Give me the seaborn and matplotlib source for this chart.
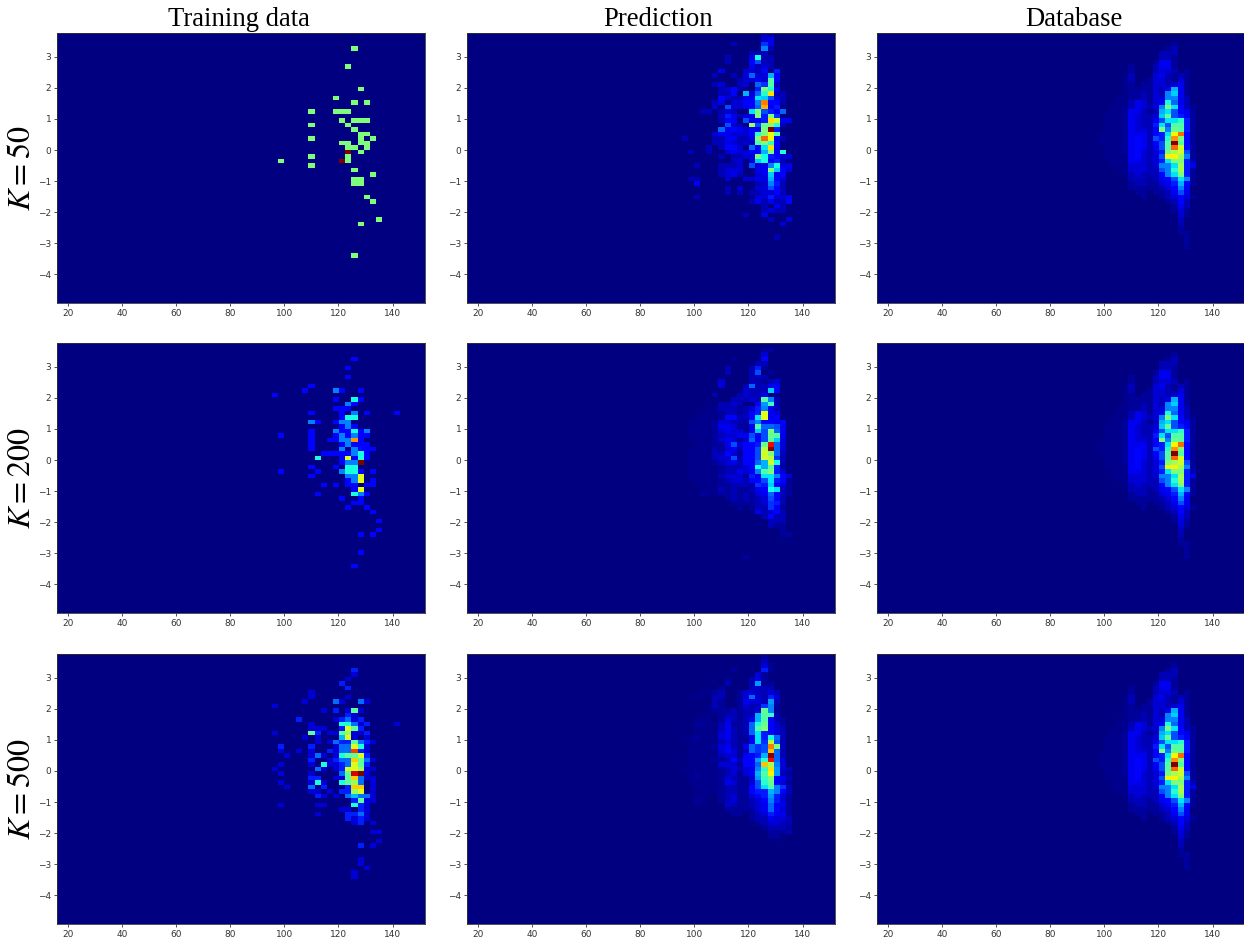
# 2d histograms of the 3 data sources at each training size
import numpy as np
import pandas as pd
import matplotlib
matplotlib.use('Agg')
import matplotlib.pyplot as plt
import seaborn as sns

plt.rcParams['mathtext.fontset'] = 'stix'

column_titles = ['Training data', 'Prediction', 'Database']
row_labels = ['$K=50$', '$K=200$', '$K=500$']
x_ticks = [20, 40, 60, 80, 100, 120, 140]
y_ticks = [-4, -3, -2, -1, 0, 1, 2, 3]

# histogram range and number of bins per axis
x_range = (15.9, 152.0)
y_range = (-4.93, 3.77)
n_bins = 60

# every panel: {row from the top: {column: count}}, empty bins are left out
train_50 = {
    3: {48: 1}, 7: {47: 1}, 12: {49: 1}, 14: {45: 1}, 15: {48: 1, 50: 1},
    17: {41: 1, 45: 1, 46: 1, 47: 1}, 19: {46: 1, 48: 1, 49: 1, 50: 1},
    20: {41: 1, 47: 1}, 21: {48: 1}, 22: {49: 1, 50: 1},
    23: {41: 1, 49: 1, 51: 1}, 24: {46: 1, 47: 1, 49: 1, 50: 1},
    25: {47: 1, 48: 1, 50: 1}, 26: {47: 2, 49: 1}, 27: {41: 1, 47: 1},
    28: {36: 1, 46: 2, 47: 1}, 29: {41: 1}, 30: {48: 1}, 31: {51: 1},
    32: {48: 1, 49: 1}, 33: {48: 1, 49: 1}, 36: {50: 1}, 37: {51: 1},
    41: {52: 1}, 42: {49: 1}, 49: {48: 1},
}
train_200 = {
    3: {48: 1}, 5: {47: 1}, 7: {47: 1}, 9: {41: 1},
    10: {40: 1, 45: 2, 46: 1, 49: 1}, 11: {35: 1}, 12: {45: 1, 48: 3, 49: 1},
    13: {47: 2, 48: 1}, 14: {45: 1, 46: 1, 47: 1},
    15: {41: 1, 46: 1, 48: 2, 50: 1, 55: 1}, 16: {46: 1, 47: 3, 48: 3},
    17: {41: 2, 42: 1, 45: 1, 46: 2, 47: 2}, 18: {46: 1, 47: 2, 48: 1},
    19: {41: 1, 45: 2, 46: 1, 47: 1, 48: 3, 49: 1, 50: 2},
    20: {36: 1, 41: 1, 45: 1, 46: 2, 47: 1, 48: 2, 49: 1, 50: 1},
    21: {41: 1, 44: 1, 45: 1, 46: 2, 47: 2, 48: 6, 49: 1},
    22: {41: 1, 46: 1, 47: 2, 48: 1, 49: 1, 50: 1},
    23: {41: 1, 46: 2, 48: 2, 49: 1, 50: 1, 51: 1},
    24: {43: 1, 44: 1, 45: 1, 46: 1, 47: 1, 48: 2, 49: 3, 50: 1},
    25: {42: 3, 46: 1, 47: 5, 48: 1, 49: 3, 50: 1},
    26: {46: 1, 47: 2, 48: 2, 49: 8}, 27: {41: 1, 45: 1, 47: 3, 48: 3},
    28: {36: 1, 42: 1, 46: 2, 47: 3, 48: 3, 49: 1, 51: 1},
    29: {41: 1, 47: 2, 48: 2, 49: 5}, 30: {47: 1, 48: 2, 49: 5, 51: 1},
    31: {43: 1, 45: 1, 47: 1, 48: 1, 50: 1, 51: 1}, 32: {48: 1, 49: 5},
    33: {42: 1, 48: 3, 49: 2, 50: 1}, 34: {46: 1, 49: 1}, 35: {48: 1, 49: 1},
    36: {47: 1, 50: 1}, 37: {51: 1}, 39: {52: 1}, 41: {52: 1},
    42: {49: 1, 51: 1}, 46: {49: 1}, 49: {48: 1},
}
train_500 = {
    3: {48: 2}, 4: {48: 1}, 5: {47: 1}, 6: {46: 2}, 7: {47: 2}, 8: {41: 1},
    9: {41: 1, 47: 1}, 10: {40: 1, 45: 3, 46: 1, 49: 3, 50: 1}, 11: {35: 1},
    12: {43: 1, 45: 2, 47: 1, 48: 6, 49: 1}, 13: {47: 2, 48: 1},
    14: {39: 2, 45: 1, 46: 2, 47: 3, 48: 1, 49: 2},
    15: {41: 1, 46: 5, 47: 5, 48: 3, 49: 1, 50: 2, 55: 1},
    16: {41: 1, 42: 1, 43: 1, 46: 2, 47: 8, 48: 6, 49: 2},
    17: {35: 1, 41: 6, 42: 2, 44: 1, 45: 1, 46: 6, 47: 7, 48: 1, 49: 1, 50: 2},
    18: {40: 1, 42: 1, 46: 4, 47: 8, 48: 1, 50: 1},
    19: {42: 1, 44: 1, 45: 3, 46: 2, 47: 2, 48: 6, 49: 3, 50: 2, 51: 1},
    20: {36: 2, 41: 2, 45: 1, 46: 3, 47: 3, 48: 8, 49: 5, 50: 1},
    21: {36: 1, 39: 1, 41: 1, 44: 2, 45: 1, 46: 3, 47: 3, 48: 11, 49: 2, 50: 1},
    22: {37: 1, 41: 1, 42: 3, 43: 1, 45: 1, 46: 5, 47: 6, 48: 6, 49: 8, 50: 2},
    23: {41: 2, 44: 1, 45: 2, 46: 3, 47: 3, 48: 9, 49: 6, 50: 3, 51: 1},
    24: {36: 1, 41: 1, 43: 5, 44: 1, 45: 1, 46: 2, 47: 3, 48: 8, 49: 6, 50: 2},
    25: {35: 1, 42: 3, 43: 1, 45: 1, 46: 2, 47: 8, 48: 8, 49: 7, 50: 1, 51: 1},
    26: {36: 1, 41: 1, 46: 3, 47: 6, 48: 12, 49: 13, 50: 1},
    27: {41: 2, 42: 2, 45: 1, 46: 1, 47: 6, 48: 9, 49: 3, 50: 1, 51: 1},
    28: {36: 1, 41: 1, 42: 5, 43: 1, 46: 5, 47: 6, 48: 7, 49: 3, 51: 1},
    29: {37: 1, 41: 3, 43: 2, 47: 2, 48: 9, 49: 9, 51: 1},
    30: {41: 1, 42: 1, 44: 1, 46: 2, 47: 2, 48: 7, 49: 8, 51: 1},
    31: {42: 2, 43: 1, 45: 1, 47: 3, 48: 4, 49: 3, 50: 3, 51: 1},
    32: {48: 2, 49: 6, 50: 1, 51: 1},
    33: {36: 1, 42: 1, 43: 1, 48: 5, 49: 2, 50: 1},
    34: {46: 1, 47: 1, 49: 2, 50: 1}, 35: {42: 1, 47: 2, 48: 2, 49: 3, 50: 1},
    36: {47: 2, 48: 1, 49: 2, 50: 1}, 37: {48: 1, 49: 2, 51: 1},
    39: {51: 1, 52: 1}, 41: {52: 1}, 42: {49: 2, 51: 1}, 45: {49: 1},
    46: {49: 1}, 47: {50: 1}, 48: {48: 1}, 49: {48: 1},
}
pred_50 = {
    0: {48: 2, 49: 1}, 1: {48: 3, 49: 4}, 2: {43: 2, 48: 7, 49: 4},
    3: {48: 10, 49: 2}, 4: {46: 2, 47: 2, 48: 2},
    5: {42: 2, 46: 4, 47: 15, 48: 2, 49: 2},
    6: {42: 2, 46: 5, 47: 8, 48: 2, 49: 2}, 7: {46: 4, 47: 2, 48: 3, 49: 2},
    8: {41: 4, 45: 3, 46: 3, 47: 2, 48: 5, 50: 6},
    9: {40: 2, 43: 2, 45: 3, 46: 9, 47: 3, 48: 3, 49: 12, 50: 5},
    10: {44: 2, 45: 3, 46: 3, 47: 4, 48: 3, 49: 18, 50: 5},
    11: {40: 2, 41: 3, 44: 2, 45: 3, 47: 9, 48: 7, 49: 18, 50: 2},
    12: {41: 2, 42: 3, 43: 5, 44: 2, 47: 6, 48: 20, 49: 15, 50: 4},
    13: {41: 2, 42: 2, 43: 5, 45: 12, 46: 3, 47: 9, 48: 16, 49: 27, 50: 2, 51: 2},
    14: {41: 5, 42: 3, 43: 2, 44: 2, 45: 4, 46: 4, 47: 14, 48: 13, 49: 8, 50: 3, 51: 2},
    15: {40: 2, 41: 4, 43: 3, 44: 3, 45: 5, 46: 5, 47: 10, 48: 31, 49: 5, 50: 5, 51: 2},
    16: {40: 3, 42: 8, 43: 3, 44: 3, 45: 4, 46: 5, 47: 9, 48: 29, 49: 4, 50: 6},
    17: {38: 2, 39: 2, 41: 2, 42: 3, 43: 2, 46: 14, 47: 20, 48: 8, 49: 6, 50: 4, 51: 9},
    18: {41: 2, 42: 6, 43: 4, 44: 2, 45: 3, 46: 4, 47: 20, 48: 6, 49: 20, 50: 7},
    19: {41: 2, 42: 5, 43: 4, 45: 8, 46: 4, 47: 5, 48: 6, 49: 27, 50: 24, 51: 4, 52: 4},
    20: {42: 8, 43: 3, 44: 2, 46: 22, 47: 8, 48: 19, 49: 20, 50: 16, 51: 2},
    21: {41: 9, 42: 4, 43: 5, 44: 4, 45: 3, 46: 5, 47: 4, 48: 20, 49: 40, 50: 6},
    22: {40: 3, 41: 4, 42: 4, 43: 3, 44: 3, 45: 3, 46: 5, 47: 16, 48: 20, 49: 25, 50: 18},
    23: {35: 2, 40: 2, 41: 2, 42: 4, 43: 4, 44: 2, 45: 2, 46: 4, 47: 20, 48: 32, 49: 26, 50: 4, 51: 2},
    24: {40: 2, 41: 2, 42: 4, 43: 3, 44: 2, 45: 3, 46: 2, 47: 18, 48: 20, 49: 16, 50: 5},
    25: {39: 2, 41: 2, 42: 5, 43: 5, 44: 3, 46: 9, 47: 5, 48: 14, 49: 27, 50: 4},
    26: {36: 2, 39: 2, 42: 3, 43: 4, 44: 3, 45: 3, 46: 5, 47: 5, 48: 12, 49: 20, 50: 4, 51: 16},
    27: {41: 2, 43: 2, 44: 2, 45: 3, 46: 3, 47: 20, 48: 15, 49: 6, 50: 5, 51: 3, 52: 3},
    28: {43: 2, 44: 3, 46: 3, 47: 13, 48: 15, 49: 5, 50: 6, 51: 2},
    29: {37: 2, 41: 2, 42: 2, 43: 2, 44: 3, 46: 8, 47: 3, 48: 4, 49: 10, 50: 15, 51: 3, 52: 4},
    30: {41: 2, 42: 3, 43: 3, 44: 3, 47: 4, 48: 4, 49: 20, 50: 13, 51: 5, 52: 3},
    31: {41: 2, 42: 3, 43: 4, 44: 2, 47: 3, 48: 4, 49: 13, 50: 4, 51: 5},
    32: {36: 2, 37: 2, 42: 3, 45: 3, 46: 3, 47: 4, 48: 3, 49: 12, 50: 5, 51: 3},
    33: {37: 4, 47: 2, 48: 3, 49: 10, 50: 6, 51: 2},
    34: {42: 2, 44: 3, 47: 3, 48: 3, 49: 8, 50: 5, 51: 2},
    35: {42: 2, 44: 2, 46: 2, 47: 2, 48: 3, 49: 3, 50: 5, 51: 2},
    36: {37: 2, 47: 3, 48: 3, 49: 6, 50: 3, 51: 3, 52: 4},
    37: {46: 2, 47: 4, 48: 2, 49: 4, 50: 2, 51: 2, 52: 5},
    38: {48: 2, 50: 4, 51: 2}, 39: {48: 2, 49: 3, 50: 2, 51: 2},
    40: {45: 2, 48: 4}, 41: {49: 2, 52: 3}, 42: {51: 3}, 45: {50: 2},
}
pred_200 = {
    1: {48: 1, 49: 1}, 2: {48: 3}, 3: {43: 1, 48: 5}, 4: {47: 2, 48: 2},
    5: {42: 2, 46: 2, 47: 6, 48: 1}, 6: {42: 2, 46: 2, 47: 8, 49: 1},
    7: {46: 2, 47: 2, 48: 2}, 8: {41: 3, 46: 2, 47: 2, 48: 1, 49: 2, 50: 3},
    9: {41: 3, 45: 2, 46: 9, 47: 2, 48: 2, 49: 4, 50: 4},
    10: {45: 3, 46: 2, 47: 2, 48: 2, 49: 13, 50: 5},
    11: {40: 2, 44: 2, 45: 3, 46: 2, 47: 2, 48: 4},
    12: {43: 2, 44: 2, 45: 2, 46: 3, 47: 2, 48: 18, 49: 10, 50: 2},
    13: {41: 2, 42: 2, 43: 3, 44: 2, 47: 5, 48: 11, 49: 17, 50: 2},
    14: {39: .5, 40: .5, 41: 2, 42: 2, 43: 2, 44: 1, 45: 2, 46: 3, 47: 6, 48: 10, 49: 4, 50: 2},
    15: {38: .5, 39: .5, 40: .5, 41: 1, 42: 2, 43: 2, 44: 1, 45: 2, 46: 5, 47: 6, 48: 25, 49: 4, 50: 3},
    16: {37: .5, 38: .5, 39: .5, 40: .5, 41: 1, 42: 5, 43: 5, 44: 2, 45: 2, 46: 5, 47: 14, 48: 25, 49: 4, 50: 5},
    17: {36: .5, 37: .5, 38: .5, 39: .5, 40: 1, 41: 3, 42: 3, 43: 2, 44: 2, 45: 1, 46: 8, 47: 10, 48: 5, 49: 5, 50: 4, 51: 5},
    18: {36: .5, 37: .5, 38: .5, 39: .5, 40: 1, 41: 4, 42: 4, 43: 3, 44: 1, 45: 1, 46: 4, 47: 18, 48: 9, 49: 9, 50: 8, 51: 4},
    19: {36: .5, 37: .5, 38: .5, 39: .5, 40: 1, 41: 3, 42: 4, 43: 3, 44: 3, 45: 1, 46: 4, 47: 13, 48: 8, 49: 20, 50: 9, 51: 4},
    20: {36: .5, 37: .5, 38: .5, 39: .5, 40: 1, 41: 2, 42: 3, 43: 3, 44: 4, 45: 4, 46: 8, 47: 4, 48: 8, 49: 19, 50: 18, 51: 4},
    21: {37: .5, 38: .5, 39: .5, 40: 1, 41: 3, 42: 4, 43: 3, 44: 1, 45: 3, 46: 9, 47: 5, 48: 8, 49: 18, 50: 13, 51: 3},
    22: {37: .5, 38: .5, 39: .5, 40: 1, 41: 1, 42: 4, 43: 8, 44: 3, 45: 5, 46: 5, 47: 6, 48: 19, 49: 36, 50: 9, 51: 3},
    23: {36: .5, 37: .5, 38: .5, 39: .5, 40: 2, 41: 1, 42: 3, 43: 4, 44: 2, 45: 5, 46: 5, 47: 8, 48: 23, 49: 40, 50: 9, 51: 3},
    24: {36: .5, 37: .5, 38: .5, 39: .5, 40: 2, 41: 2, 42: 5, 43: 3, 44: 1, 45: 5, 46: 5, 47: 8, 48: 24, 49: 20, 50: 9, 51: 2},
    25: {36: .5, 37: .5, 38: .5, 39: .5, 40: 2, 41: 3, 42: 3, 43: 8, 44: 2, 45: 5, 46: 5, 47: 8, 48: 24, 49: 23, 50: 7, 51: 2},
    26: {36: .5, 37: .5, 38: .5, 39: .5, 40: 1, 41: 2, 42: 3, 43: 4, 44: 2, 45: 5, 46: 5, 47: 9, 48: 12, 49: 24, 50: 15, 51: 2},
    27: {36: .5, 37: .5, 38: .5, 39: .5, 40: .5, 41: 1, 42: 2, 43: 2, 44: 2, 45: 3, 46: 5, 47: 15, 48: 12, 49: 18, 50: 6, 51: 1},
    28: {36: .5, 37: .5, 38: .5, 39: .5, 40: .5, 41: 1, 42: 2, 43: 2, 44: 4, 45: 3, 46: 4, 47: 10, 48: 18, 49: 20, 50: 6, 51: 3},
    29: {36: .5, 37: .5, 38: .5, 39: .5, 40: .5, 41: 2, 42: 3, 43: 3, 44: 3, 45: 1, 46: 6, 47: 4, 48: 14, 49: 14, 50: 10, 51: 5, 52: 3},
    30: {37: .5, 38: .5, 39: .5, 40: .5, 41: 1, 42: 2, 43: 3, 44: 3, 45: 2, 46: 5, 47: 5, 48: 8, 49: 14, 50: 6, 51: 5, 52: 1},
    31: {37: .5, 38: .5, 39: .5, 40: .5, 41: 1, 42: 1, 43: 2, 44: 2, 45: 2, 46: 1, 47: 7, 48: 6, 49: 13, 50: 5, 51: 3, 52: 1},
    32: {38: .5, 39: .5, 40: .5, 41: 2, 42: 1, 43: 2, 44: 1, 45: 1, 46: 2, 47: 4, 48: 5, 49: 15, 50: 14, 51: 2, 52: 1},
    33: {38: 1, 39: .5, 40: .5, 41: 1, 42: 1, 43: 2, 44: 1, 45: 2, 46: 1, 47: 3, 48: 4, 49: 9, 50: 5, 51: 2, 52: 1},
    34: {42: 1, 43: 2, 44: 1, 45: 2, 46: 1, 47: 2, 48: 3, 49: 8, 50: 5, 51: 2},
    35: {43: 1, 44: 1, 45: 1, 46: 1, 47: 2, 48: 3, 49: 7, 50: 6, 51: 2}, 36: {44: 1, 46: 1, 47: 2, 48: 2, 49: 7, 50: 4, 51: 1},
    37: {47: 4, 48: 2, 49: 3, 50: 5, 51: 2}, 38: {48: 2, 49: 5, 50: 2, 51: 2},
    39: {49: 2, 50: 2, 51: 2}, 40: {49: 2, 50: 1, 51: 1}, 41: {51: 1},
    42: {51: 1, 52: 1}, 47: {45: 1},
}
pred_500 = {
    0: {48: 1}, 1: {48: 2}, 2: {48: 3, 49: 1}, 3: {43: 1, 48: 6, 49: 1},
    4: {47: 3, 48: 1}, 5: {42: 1, 46: 2, 47: 4, 48: 1},
    6: {42: 2, 46: 2, 47: 11, 48: 1, 49: 1}, 7: {41: 1, 46: 2, 47: 3, 48: 2, 49: 2},
    8: {38: .5, 39: .5, 40: 1, 41: 2, 44: 1, 45: 3, 46: 3, 47: 2, 48: 2, 49: 3, 50: 2},
    9: {36: .5, 37: .5, 38: .5, 40: 2, 41: 2, 44: 1, 45: 3, 46: 9, 47: 3, 48: 2, 49: 6, 50: 3},
    10: {40: 2, 41: 1, 44: 1, 45: 4, 46: 3, 47: 3, 48: 2, 49: 11, 50: 2},
    11: {39: .5, 40: 2, 41: 1, 44: 1, 45: 3, 46: 2, 47: 2, 48: 7, 49: 10, 50: 1},
    12: {39: .5, 40: 1, 41: 1, 42: 1, 43: 2, 44: 1, 45: 2, 46: 2, 47: 3, 48: 19, 49: 10, 50: 1},
    13: {38: .5, 39: .5, 40: .5, 41: 1, 42: 2, 43: 2, 44: 1, 45: 2, 46: 2, 47: 12, 48: 18, 49: 17, 50: 2},
    14: {37: .5, 38: .5, 39: .5, 41: 1, 42: 3, 43: 2, 44: 1, 45: 2, 46: 4, 47: 12, 48: 18, 49: 5, 50: 2, 51: 1},
    15: {37: 1, 38: 1, 39: .5, 40: .5, 41: 2, 42: 4, 43: 1, 44: 1, 45: 2, 46: 9, 47: 15, 48: 19, 49: 5, 50: 3, 51: 1},
    16: {37: .5, 38: .5, 39: .5, 40: .5, 41: 2, 42: 4, 43: 2, 44: 1, 45: 2, 46: 9, 47: 18, 48: 20, 49: 5, 50: 3, 51: 2},
    17: {37: .5, 38: .5, 39: .5, 40: .5, 41: 3, 42: 4, 43: 2, 44: 1, 45: 2, 46: 9, 47: 14, 48: 6, 49: 5, 50: 3, 51: 2},
    18: {35: .5, 36: .5, 37: 1, 38: .5, 39: .5, 40: .5, 41: 3, 42: 4, 43: 2, 44: 1, 45: 1, 46: 4, 47: 14, 48: 6, 49: 15, 50: 9, 51: 2},
    19: {36: .5, 37: .5, 38: .5, 39: .5, 40: .5, 41: 2, 42: 3, 43: 2, 44: 1, 45: 1, 46: 4, 47: 14, 48: 7, 49: 23, 50: 8, 51: 2},
    20: {36: .5, 37: .5, 38: .5, 39: .5, 40: 1, 41: 3, 42: 4, 43: 2, 44: 1, 45: 4, 46: 9, 47: 7, 48: 8, 49: 31, 50: 20, 51: 2},
    21: {36: .5, 37: .5, 38: .5, 39: .5, 40: .5, 41: 3, 42: 5, 43: 3, 44: 1, 45: 2, 46: 9, 47: 7, 48: 8, 49: 28, 50: 9, 51: 2},
    22: {36: .5, 37: .5, 38: .5, 39: .5, 40: .5, 41: 2, 42: 3, 43: 3, 44: 1, 45: 4, 46: 5, 47: 6, 48: 12, 49: 40, 50: 9, 51: 2},
    23: {36: .5, 37: .5, 38: .5, 39: .5, 40: 1, 41: 1, 42: 2, 43: 5, 44: 2, 45: 5, 46: 5, 47: 11, 48: 16, 49: 36, 50: 9, 51: 3},
    24: {36: .5, 37: .5, 38: .5, 39: .5, 40: .5, 41: 3, 42: 3, 43: 3, 44: 1, 45: 5, 46: 5, 47: 9, 48: 28, 49: 22, 50: 10, 51: 3},
    25: {35: .5, 36: .5, 37: .5, 38: .5, 39: .5, 40: .5, 41: 1, 42: 2, 43: 3, 44: 2, 45: 3, 46: 4, 47: 10, 48: 16, 49: 27, 50: 11, 51: 3, 52: 2},
    26: {36: .5, 37: 1, 38: .5, 39: .5, 40: .5, 41: 1, 42: 2, 43: 3, 44: 1, 45: 3, 46: 4, 47: 12, 48: 18, 49: 26, 50: 11, 51: 2, 52: 1},
    27: {36: .5, 37: 1, 38: .5, 39: .5, 40: .5, 41: 1, 42: 3, 43: 2, 44: 1, 45: 1, 46: 3, 47: 11, 48: 17, 49: 20, 50: 5, 51: 4, 52: 2},
    28: {36: .5, 37: .5, 38: .5, 39: .5, 40: .5, 41: 1, 42: 4, 43: 3, 44: 1, 45: 1, 46: 3, 47: 8, 48: 16, 49: 19, 50: 5, 51: 3, 52: 1},
    29: {37: .5, 38: .5, 39: .5, 40: .5, 41: 1, 42: 2, 43: 2, 44: 1, 45: 1, 46: 5, 47: 8, 48: 14, 49: 18, 50: 10, 51: 7, 52: 2},
    30: {37: .5, 38: .5, 39: .5, 40: .5, 41: 1, 42: 2, 43: 2, 44: 1, 45: 1, 46: 5, 47: 6, 48: 6, 49: 12, 50: 10, 51: 5, 52: 2},
    31: {37: .5, 38: .5, 41: 1, 42: 2, 43: 3, 44: 1, 45: 1, 46: 3, 47: 5, 48: 6, 49: 11, 50: 6, 51: 3, 52: 1},
    32: {37: 1, 38: .5, 41: 1, 42: 2, 43: 3, 44: 1, 45: 1, 46: 2, 47: 3, 48: 5, 49: 10, 50: 6, 51: 3, 52: 1},
    33: {37: .5, 42: 3, 43: 2, 44: 1, 45: 1, 46: 2, 47: 3, 48: 4, 49: 9, 50: 4, 51: 4, 52: 1},
    34: {42: 1, 43: 1, 44: 1, 45: 1, 46: 1, 47: 3, 48: 4, 49: 9, 50: 5, 51: 3, 52: 1},
    35: {43: 1, 44: 1, 46: 1, 47: 2, 48: 3, 49: 6, 50: 4, 51: 4, 52: 1},
    36: {46: 1, 47: 2, 48: 2, 49: 4, 50: 3, 51: 3, 52: 2},
    37: {47: 1, 48: 2, 49: 3, 50: 3, 51: 2, 52: 2}, 38: {48: 1, 49: 2, 50: 2, 51: 2, 52: 1},
    39: {49: 1, 50: 1, 51: 1, 52: 2}, 40: {49: 1, 50: 1}, 41: {50: .5},
}
database = {
    2: {48: 1}, 3: {47: 1, 48: 2}, 4: {46: 2, 47: 2, 48: 2}, 5: {46: 2, 47: 2, 48: 1},
    6: {45: 1, 46: 4, 47: 4, 48: 1}, 7: {41: 1, 45: 2, 46: 4, 47: 4, 48: 1},
    8: {41: 1, 45: 2, 46: 3, 47: 3, 48: 2, 50: 1},
    9: {40: .5, 41: 2, 45: 3, 46: 4, 47: 2, 48: 1, 49: 2, 50: 1},
    10: {40: .5, 41: 2, 44: 1, 45: 3, 46: 3, 47: 2, 48: 1, 49: 3, 50: 1},
    11: {40: .5, 41: 1, 43: 1, 44: 1, 45: 3, 46: 3, 47: 2, 48: 3, 49: 4, 50: 1},
    12: {40: .5, 41: 1, 42: 1, 43: 1, 44: 1, 45: 3, 46: 2, 47: 4, 48: 12, 49: 4, 50: 1},
    13: {40: .5, 41: 1, 42: 1, 43: 2, 44: 1, 45: 3, 46: 2, 47: 10, 48: 13, 49: 4, 50: 1},
    14: {39: .5, 40: .5, 41: 1, 42: 1, 43: 2, 44: 1, 45: 3, 46: 3, 47: 10, 48: 10, 49: 4, 50: 2},
    15: {39: .5, 40: .5, 41: 2, 42: 4, 43: 3, 44: 1, 45: 3, 46: 4, 47: 15, 48: 9, 49: 4, 50: 2},
    16: {38: .5, 39: .5, 40: .5, 41: 2, 42: 4, 43: 3, 44: 2, 45: 3, 46: 10, 47: 20, 48: 14, 49: 5, 50: 2, 51: 1},
    17: {38: .5, 39: .5, 40: 1, 41: 4, 42: 4, 43: 2, 44: 1, 45: 2, 46: 12, 47: 14, 48: 8, 49: 5, 50: 4, 51: 1},
    18: {37: .5, 38: .5, 39: .5, 40: 1, 41: 4, 42: 3, 43: 2, 44: 2, 45: 3, 46: 13, 47: 19, 48: 8, 49: 6, 50: 4, 51: 1},
    19: {37: .5, 38: .5, 39: .5, 40: 1, 41: 4, 42: 3, 43: 2, 44: 2, 45: 4, 46: 8, 47: 14, 48: 14, 49: 16, 50: 6, 51: 1},
    20: {37: .5, 38: .5, 39: .5, 40: 1, 41: 4, 42: 3, 43: 2, 44: 2, 45: 6, 46: 14, 47: 8, 48: 18, 49: 18, 50: 6, 51: 1},
    21: {37: .5, 38: .5, 39: .5, 40: 1, 41: 4, 42: 3, 43: 3, 44: 2, 45: 5, 46: 20, 47: 10, 48: 19, 49: 18, 50: 6, 51: 1},
    22: {36: .5, 37: .5, 38: .5, 39: .5, 40: 1, 41: 4, 42: 4, 43: 4, 44: 2, 45: 5, 46: 6, 47: 14, 48: 26, 49: 32, 50: 5, 51: 1},
    23: {36: .5, 37: .5, 38: .5, 39: .5, 40: 1, 41: 4, 42: 5, 43: 4, 44: 2, 45: 8, 46: 6, 47: 16, 48: 30, 49: 20, 50: 5, 51: 1},
    24: {36: .5, 37: .5, 38: .5, 39: .5, 40: 1, 41: 4, 42: 5, 43: 4, 44: 2, 45: 5, 46: 8, 47: 18, 48: 40, 49: 18, 50: 5, 51: 1},
    25: {37: .5, 38: .5, 39: .5, 40: 1, 41: 4, 42: 5, 43: 4, 44: 2, 45: 4, 46: 8, 47: 18, 48: 32, 49: 24, 50: 5, 51: 1},
    26: {37: .5, 38: .5, 39: .5, 40: 1, 41: 4, 42: 5, 43: 3, 44: 2, 45: 3, 46: 6, 47: 20, 48: 22, 49: 24, 50: 8, 51: 1},
    27: {37: .5, 38: .5, 39: .5, 40: .5, 41: 4, 42: 5, 43: 3, 44: 2, 45: 3, 46: 8, 47: 26, 48: 26, 49: 22, 50: 10, 51: 1},
    28: {38: .5, 39: .5, 40: .5, 41: 4, 42: 4, 43: 3, 44: 2, 45: 3, 46: 6, 47: 14, 48: 20, 49: 20, 50: 6, 51: 2},
    29: {38: .5, 39: .5, 40: .5, 41: 3, 42: 3, 43: 3, 44: 2, 45: 3, 46: 10, 47: 10, 48: 14, 49: 22, 50: 6, 51: 4},
    30: {39: .5, 40: .5, 41: 3, 42: 3, 43: 3, 44: 2, 45: 2, 46: 8, 47: 10, 48: 16, 49: 22, 50: 6, 51: 1},
    31: {40: .5, 41: 2, 42: 3, 43: 2, 44: 2, 45: 2, 46: 5, 47: 10, 48: 14, 49: 20, 50: 6, 51: 1},
    32: {41: 2, 42: 2, 43: 2, 44: 1, 45: 2, 46: 4, 47: 5, 48: 8, 49: 14, 50: 10, 51: 1},
    33: {41: 1, 42: 2, 43: 2, 44: 1, 45: 1, 46: 3, 47: 4, 48: 6, 49: 12, 50: 5, 51: 1},
    34: {41: 1, 42: 1, 43: 1, 44: 1, 45: 1, 46: 2, 47: 3, 48: 5, 49: 10, 50: 4},
    35: {42: 1, 43: 1, 45: 1, 46: 1, 47: 2, 48: 4, 49: 8, 50: 4},
    36: {43: 1, 46: 1, 47: 2, 48: 3, 49: 5, 50: 3, 51: 1},
    37: {47: 1, 48: 2, 49: 5, 50: 2}, 38: {48: 1, 49: 4, 50: 2}, 39: {48: 1, 49: 3, 50: 1},
    40: {49: 3, 50: 1}, 41: {49: 2}, 42: {49: 2}, 43: {49: 1}, 44: {49: 1, 50: 1},
    45: {50: 1}, 46: {50: 1}, 47: {50: 1},
}

panels = [
    [train_50, pred_50, database],
    [train_200, pred_200, database],
    [train_500, pred_500, database],
]


def to_table(counts):
    grid = np.zeros((n_bins, n_bins))
    for row, cells in counts.items():
        for col, value in cells.items():
            grid[row, col] = value
    return pd.DataFrame(grid)


fig = plt.figure(figsize=(12.44, 9.38), dpi=100)
lefts = [57, 467, 877]
tops = [33, 343, 654]
title_x = [0.495, 0.519, 0.535]

for i, row_panels in enumerate(panels):
    for j, counts in enumerate(row_panels):
        ax = fig.add_axes([lefts[j] / 1244, 1 - (tops[i] + 270) / 938, 368 / 1244, 270 / 938])
        sns.heatmap(to_table(counts), ax=ax, cmap='jet', cbar=False, vmin=0,
                    xticklabels=False, yticklabels=False)
        # bin positions for the real axis values
        xpos = [(v - x_range[0]) / (x_range[1] - x_range[0]) * n_bins for v in x_ticks]
        ypos = [(y_range[1] - v) / (y_range[1] - y_range[0]) * n_bins for v in y_ticks]
        ax.set_xticks(xpos)
        ax.set_xticklabels(x_ticks, rotation=0, fontsize=6.5)
        ax.set_yticks(ypos)
        ax.set_yticklabels([str(v).replace('-', '\u2212') for v in y_ticks], rotation=0, fontsize=6.5)
        ax.tick_params(length=2.2, width=0.6, pad=1.8, color='#333333', labelcolor='#333333')
        for spine in ax.spines.values():
            spine.set_visible(True)
            spine.set_linewidth(0.6)
            spine.set_color('#333333')
        if i == 0:
            ax.set_title(column_titles[j], family='Liberation Serif', fontsize=19.2, pad=5, x=title_x[j])
        if j == 0:
            ax.set_ylabel(row_labels[i], fontsize=23)
            ax.yaxis.set_label_coords(-0.055, 0.5)

fig.savefig('out.png', dpi=100)
